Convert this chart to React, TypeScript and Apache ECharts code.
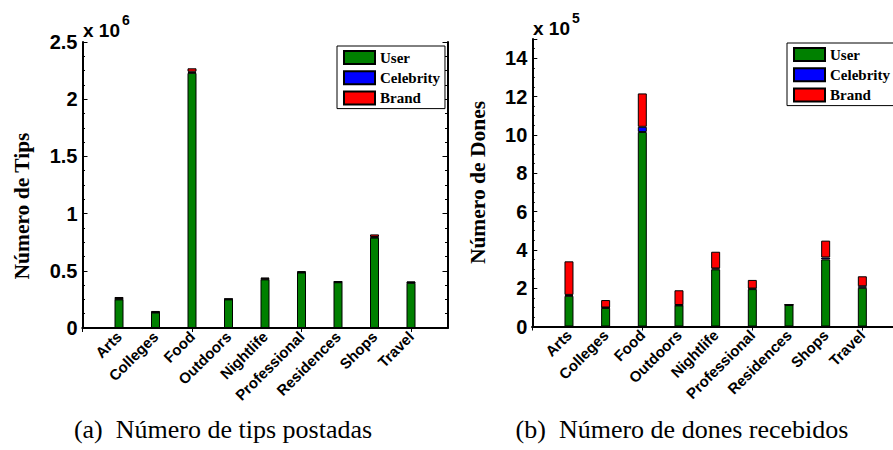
import React, { useEffect, useRef } from 'react';
import * as echarts from 'echarts';

const categories = ['Arts', 'Colleges', 'Food', 'Outdoors', 'Nightlife', 'Professional', 'Residences', 'Shops', 'Travel'];
const seriesNames = ['User', 'Celebrity', 'Brand'];
const seriesColors = ['#008000', '#0000ff', '#ff0000'];

// (a) Número de tips, in units of 10^6
const tipsUser = [0.25, 0.135, 2.23, 0.25, 0.425, 0.485, 0.4, 0.79, 0.395];
const tipsCelebrity = [0.004, 0.002, 0.01, 0.002, 0.005, 0.003, 0.002, 0.006, 0.003];
const tipsBrand = [0.017, 0.012, 0.03, 0.005, 0.011, 0.008, 0.007, 0.022, 0.008];

// (b) Número de dones, in units of 10^5
const donesUser = [1.6, 0.97, 10.15, 1.1, 2.98, 1.95, 1.12, 3.5, 2.02];
const donesCelebrity = [0.05, 0.02, 0.27, 0.02, 0.05, 0.03, 0.01, 0.1, 0.08];
const donesBrand = [1.75, 0.39, 1.74, 0.77, 0.87, 0.45, 0.01, 0.88, 0.52];

const tipsAxis = { min: 0, max: 2.5, interval: 0.5 };
const donesAxis = { min: 0, max: 15, interval: 2 };

const SANS = 'Liberation Sans, Arial, sans-serif';
const SERIF = 'Liberation Serif, Times New Roman, serif';

const axisCats = ['', ...categories, ''];
const pad = (arr: number[]) => ['-', ...arr, '-'];

function xAxes(gridIndex: number) {
  const line = { show: true, lineStyle: { color: '#000', width: 2 } };
  return [
    {
      type: 'category', gridIndex, data: axisCats, boundaryGap: false, position: 'bottom',
      axisLine: line,
      axisTick: { show: true, inside: true, length: 4, lineStyle: { color: '#000', width: 1 } },
      axisLabel: { interval: 0, rotate: 45, margin: 6, color: '#000', fontFamily: SANS, fontWeight: 'bold', fontSize: 15 },
      splitLine: { show: false },
    },
    {
      type: 'category', gridIndex, data: axisCats, boundaryGap: false, position: 'top',
      axisLine: line,
      axisTick: { show: true, inside: true, length: 4, lineStyle: { color: '#000', width: 1 } },
      axisLabel: { show: false },
      splitLine: { show: false },
    },
  ];
}

function yAxes(gridIndex: number, ax: { min: number; max: number; interval: number }, hideTop: boolean) {
  const line = { show: true, lineStyle: { color: '#000', width: 2 } };
  const common = {
    type: 'value', gridIndex, min: ax.min, max: ax.max, interval: ax.interval,
    axisLine: line,
    axisTick: { show: true, inside: true, length: 5, lineStyle: { color: '#000', width: 1 } },
    minorTick: { show: true, splitNumber: 4, length: 2.5, lineStyle: { color: '#000', width: 1 } },
    splitLine: { show: false },
  };
  return [
    {
      ...common, position: 'left',
      axisLabel: {
        margin: 5, color: '#000', fontFamily: SANS, fontWeight: 'bold', fontSize: 20,
        formatter: (v: number) => (hideTop && v === ax.max ? '' : String(v)),
      },
    },
    { ...common, position: 'right', axisLabel: { show: false } },
  ];
}

function barSeries(xi: number, yi: number, stack: string, values: number[][]) {
  return values.map((vals, i) => ({
    name: seriesNames[i],
    type: 'bar',
    xAxisIndex: xi,
    yAxisIndex: yi,
    stack,
    barWidth: 9,
    data: pad(vals),
    itemStyle: { color: seriesColors[i], borderColor: '#000', borderWidth: 1 },
  }));
}

function legend(left: number, top: number) {
  return {
    data: seriesNames,
    orient: 'vertical',
    left, top,
    padding: [4, 5, 3, 6],
    itemWidth: 31,
    itemHeight: 13,
    itemGap: 5.3,
    icon: 'rect',
    selectedMode: false,
    borderColor: '#000',
    borderWidth: 1,
    backgroundColor: '#fff',
    textStyle: { fontFamily: SERIF, fontWeight: 'bold', fontSize: 15, color: '#000', lineHeight: 13 },
  };
}

export default function App() {
  const ref = useRef<HTMLDivElement>(null);
  useEffect(() => {
    if (!ref.current) return;
    const chart = echarts.init(ref.current, undefined, { renderer: 'svg' });
    chart.setOption({
      animation: false,
      backgroundColor: '#fff',
      grid: [
        { left: 82.5, top: 42, width: 365, height: 286, outerBoundsMode: 'none', containLabel: false },
        { left: 532.3, top: 39, width: 366.7, height: 287.5, outerBoundsMode: 'none', containLabel: false },
      ],
      xAxis: [...xAxes(0), ...xAxes(1)],
      yAxis: [...yAxes(0, tipsAxis, false), ...yAxes(1, donesAxis, true)],
      legend: [legend(337, 46), legend(787, 43)],
      series: [
        ...barSeries(0, 0, 'tips', [tipsUser, tipsCelebrity, tipsBrand]),
        ...barSeries(2, 2, 'dones', [donesUser, donesCelebrity, donesBrand]),
      ],
      graphic: [
        { type: 'text', x: 83, y: 30, style: { text: 'x 10', font: `bold 19px ${SANS}`, fill: '#000', verticalAlign: 'middle', align: 'left' } },
        { type: 'text', x: 122, y: 20, style: { text: '6', font: `bold 14px ${SANS}`, fill: '#000', verticalAlign: 'middle', align: 'left' } },
        { type: 'text', x: 533, y: 28, style: { text: 'x 10', font: `bold 19px ${SANS}`, fill: '#000', verticalAlign: 'middle', align: 'left' } },
        { type: 'text', x: 572, y: 17.5, style: { text: '5', font: `bold 14px ${SANS}`, fill: '#000', verticalAlign: 'middle', align: 'left' } },
        { type: 'text', x: 22, y: 206, rotation: Math.PI / 2, style: { text: 'Número de Tips', font: `bold 21.5px ${SERIF}`, fill: '#000', verticalAlign: 'middle', align: 'center' } },
        { type: 'text', x: 478, y: 182.5, rotation: Math.PI / 2, style: { text: 'Número de Dones', font: `bold 21.5px ${SERIF}`, fill: '#000', verticalAlign: 'middle', align: 'center' } },
        { type: 'text', x: 223, y: 429, style: { text: '(a)  Número de tips postadas', font: `26px ${SERIF}`, fill: '#000', verticalAlign: 'middle', align: 'center' } },
        { type: 'text', x: 682, y: 429, style: { text: '(b)  Número de dones recebidos', font: `26px ${SERIF}`, fill: '#000', verticalAlign: 'middle', align: 'center' } },
      ],
    });
    return () => chart.dispose();
  }, []);
  return <div ref={ref} style={{ position: 'absolute', left: 0, top: 0, width: 893, height: 450 }} />;
}
